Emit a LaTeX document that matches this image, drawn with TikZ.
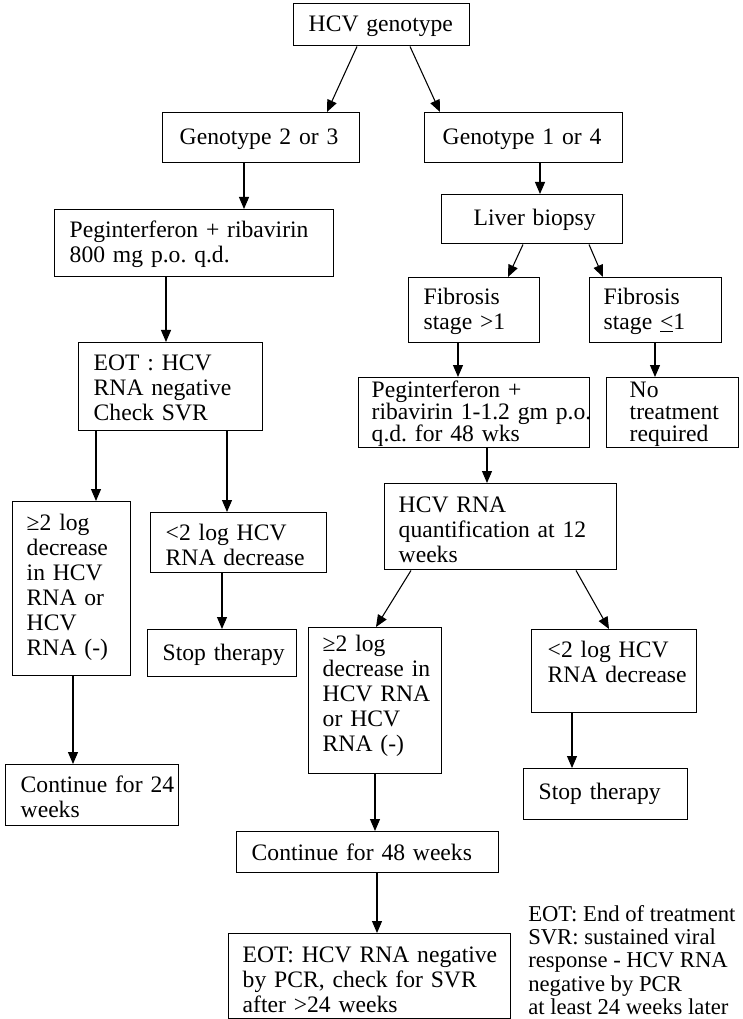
\documentclass[tikz,border=0pt]{standalone}
\usepackage{fontspec}
\setmainfont{Liberation Serif}
\usetikzlibrary{arrows.meta}
\newdimen\pxu \pxu=0.75pt
\frenchspacing

\begin{document}
\begin{tikzpicture}[x=0.75pt, y=-0.75pt,
  every node/.style={font=\fontsize{17.7pt}{18.75pt}\selectfont},
  box/.style n args={4}{draw, line width=1.1pt, anchor=north west, inner sep=0pt,
    align=left, text width=#1*0.75pt, text height=#3*0.75pt, text depth=(#2-#3)*0.75pt,
    execute at begin node={\leftskip=#4\pxu}},
  tight/.style={font=\fontsize{17.7pt}{16.3pt}\selectfont},
  arr/.style={-{Triangle[length=9pt,width=7.5pt]}, line width=0.8pt}]
\useasboundingbox (0,0) rectangle (742,1019);

\node[box={176}{42}{28}{15}] (geno) at (293,3) {HCV genotype};
\node[box={197}{50}{32}{17}] (gen23) at (162,112) {Genotype 2 or 3};
\node[box={198}{50}{32}{18}] (gen14) at (424,112) {Genotype 1 or 4};
% genotype 2 or 3 branch
\node[box={279}{67}{28}{15}] (peg23) at (54,209) {Peginterferon + ribavirin\\800 mg p.o. q.d.};
\node[box={184}{88}{28}{15}] (eot23) at (78,342) {EOT : HCV\\RNA negative\\Check SVR};
\node[box={118}{174}{29}{14}] (resp23) at (12,501) {≥2 log\\decrease\\in HCV\\RNA or\\HCV\\RNA (-)};
\node[box={176}{60}{28}{15}] (nonresp23) at (150,512) {<2 log HCV\\RNA decrease};
\node[box={149}{47}{31}{15}] (stop23) at (147,629) {Stop therapy};
\node[box={173}{61}{28}{15}] (cont24) at (5,764) {Continue for 24\\weeks};
% genotype 1 or 4 branch
\node[box={181}{49}{31}{32}] (biopsy) at (441,194) {Liver biopsy};
\node[box={131}{65}{27}{15}] (fibhi) at (408,277) {Fibrosis\\stage >1};
\node[box={132}{65}{27}{14}] (fiblo) at (589,277) {Fibrosis\\stage \underline{<}1};
\node[box={231}{70}{20}{13}, tight] (peg14) at (358,377) {Peginterferon +\\\mbox{ribavirin 1-1.2 gm p.o.}\\q.d. for 48 wks};
\node[box={132}{70}{20}{23}, tight] (notx) at (606,377) {No\\treatment\\required};
\node[box={232}{86}{29}{14}] (quant) at (384,483) {HCV RNA\\quantification at 12\\weeks};
\node[box={133}{146}{24}{14}] (resp14) at (308,627) {≥2 log\\decrease in\\HCV RNA\\or HCV\\RNA (-)};
\node[box={165}{83}{28}{16}] (nonresp14) at (531,629) {<2 log HCV\\RNA decrease};
\node[box={164}{51}{31}{15}] (stop14) at (523,768) {Stop therapy};
\node[box={262}{41}{29}{15}] (cont48) at (236,831) {Continue for 48 weeks};
\node[box={282}{85}{29}{14}] (eot14) at (228,933) {EOT: HCV RNA negative\\by PCR, check for SVR\\after >24 weeks};
\node[anchor=north west, inner sep=0pt, align=left, font=\fontsize{17pt}{17.5pt}\selectfont] (note) at (528,905)
  {EOT: End of treatment\\SVR: sustained viral\\response - HCV RNA\\negative by PCR\\at least 24 weeks later};

\draw[arr] ([xshift=48pt]geno.south west) -- ([xshift=123.75pt]gen23.north west);
\draw[arr] ([xshift=87.75pt]geno.south west) -- ([xshift=12pt]gen14.north west);
\draw[arr] ([xshift=61.5pt]gen23.south west) -- ([xshift=142.5pt]peg23.north west);
\draw[arr] ([xshift=84pt]peg23.south west) -- ([xshift=66pt]eot23.north west);
\draw[arr] ([xshift=13.5pt]eot23.south west) -- ([xshift=63pt]resp23.north west);
\draw[arr] ([xshift=111.75pt]eot23.south west) -- ([xshift=57.75pt]nonresp23.north west);
\draw[arr] ([xshift=54pt]nonresp23.south west) -- ([xshift=56.25pt]stop23.north west);
\draw[arr] ([xshift=45.75pt]resp23.south west) -- ([xshift=51pt]cont24.north west);
\draw[arr] ([xshift=87pt]gen14.south west) -- ([xshift=74.25pt]biopsy.north west);
\draw[arr] ([xshift=61.5pt]biopsy.south west) -- ([xshift=75pt]fibhi.north west);
\draw[arr] ([xshift=111pt]biopsy.south west) -- ([xshift=10.5pt]fiblo.north west);
\draw[arr] ([xshift=37.5pt]fibhi.south west) -- ([xshift=75pt]peg14.north west);
\draw[arr] ([xshift=49.5pt]fiblo.south west) -- ([xshift=36.75pt]notx.north west);
\draw[arr] ([xshift=96.75pt]peg14.south west) -- ([xshift=77.25pt]quant.north west);
\draw[arr] ([xshift=20.25pt]quant.south west) -- ([xshift=51pt]resp14.north west);
\draw[arr] ([xshift=144pt]quant.south west) -- ([xshift=58.5pt]nonresp14.north west);
\draw[arr] ([xshift=50.25pt]resp14.south west) -- ([xshift=104.25pt]cont48.north west);
\draw[arr] ([xshift=30.75pt]nonresp14.south west) -- ([xshift=36.75pt]stop14.north west);
\draw[arr] ([xshift=105.75pt]cont48.south west) -- ([xshift=111.75pt]eot14.north west);
\end{tikzpicture}
\end{document}
